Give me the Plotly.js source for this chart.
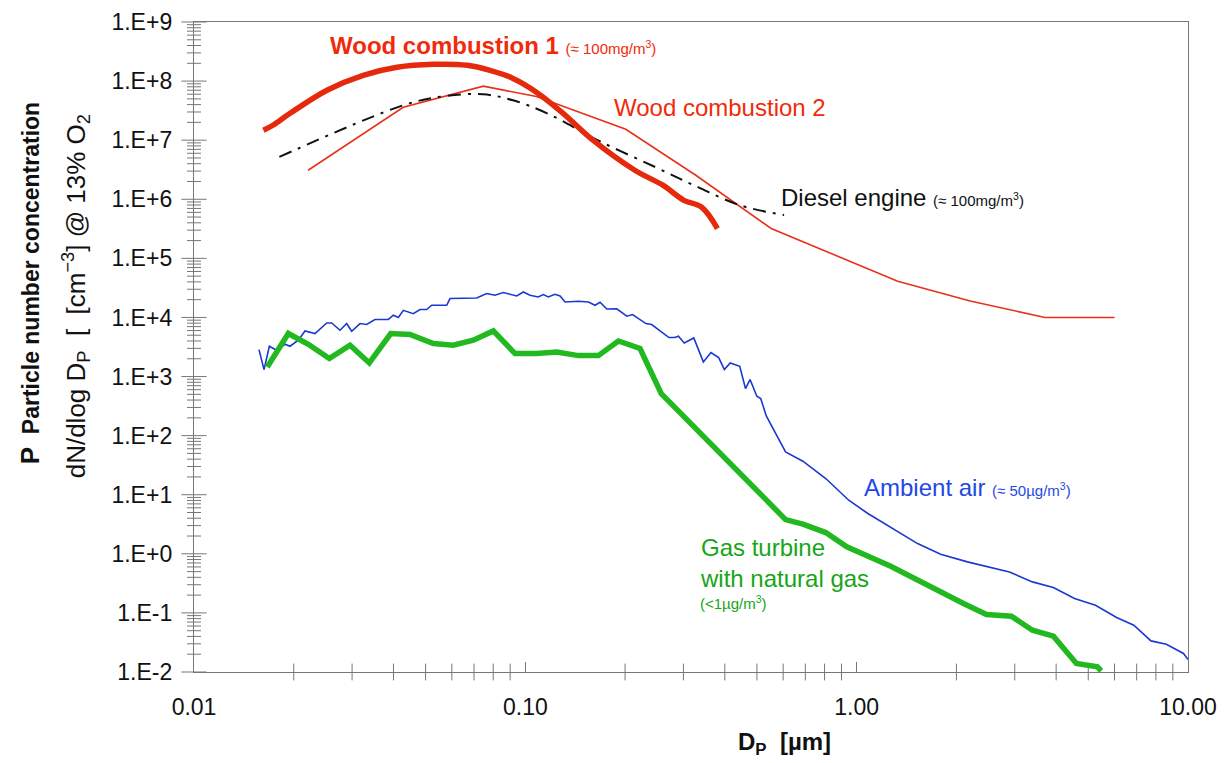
<!DOCTYPE html>
<html>
<head>
<meta charset="utf-8">
<script src="https://cdn.plot.ly/plotly-3.0.1.min.js"></script>
<style>html,body{margin:0;padding:0;background:#fff;}#chart{width:1229px;height:763px;}</style>
</head>
<body>
<div id="chart"></div>
<script>
// ---- Data ----
const wood1X = [0.0162, 0.0173, 0.0195, 0.0252, 0.0324, 0.0410, 0.0526, 0.0667, 0.0782, 0.0918, 0.108, 0.130, 0.160, 0.214, 0.260, 0.301, 0.340, 0.380];
const wood1Y = [1.47e7, 1.79e7, 2.85e7, 7.0e7, 1.25e8, 1.71e8, 1.92e8, 1.85e8, 1.52e8, 1.11e8, 6.5e7, 2.85e7, 1.0e7, 3.1e6, 1.73e6, 9.6e5, 7.4e5, 3.2e5];

const wood2X = [0.0221, 0.0428, 0.0747, 0.108, 0.201, 0.327, 0.552, 1.33, 2.2, 3.7, 6.0];
const wood2Y = [3.1e6, 3.6e7, 8.2e7, 5.5e7, 1.53e7, 2.55e6, 3.2e5, 4.1e4, 1.9e4, 1.0e4, 1.0e4];

const dieselX = [0.0181, 0.0428, 0.0565, 0.0745, 0.0918, 0.1163, 0.167, 0.247, 0.332, 0.445, 0.604];
const dieselY = [5.2e6, 3.9e7, 5.53e7, 5.98e7, 4.73e7, 2.85e7, 9.7e6, 3.5e6, 1.6e6, 7.9e5, 5.4e5];

const ambientX = [0.01571, 0.01627, 0.01688, 0.01777, 0.01883, 0.01949, 0.02064, 0.02163, 0.02318, 0.02515,
  0.02604, 0.02758, 0.02890, 0.02992, 0.03170, 0.03321, 0.03518, 0.03859, 0.03996, 0.04137,
  0.04283, 0.04590, 0.04810, 0.05039, 0.05217, 0.05790, 0.05924, 0.07133, 0.07644, 0.08097,
  0.08580, 0.09419, 0.09862, 0.1033, 0.1094, 0.1133, 0.1173, 0.1229, 0.1273, 0.1318,
  0.1446, 0.1550, 0.1623, 0.1681, 0.1761, 0.1888, 0.2025, 0.2107, 0.2312, 0.2406,
  0.2713, 0.2823, 0.2898, 0.3017, 0.3224, 0.3446, 0.3633, 0.3833, 0.3988, 0.4152,
  0.4437, 0.4618, 0.4767, 0.4997, 0.5133, 0.5341, 0.6101, 0.6880, 0.8067, 0.9465,
  1.081, 1.302, 1.527, 1.792, 2.159, 2.891, 3.391, 3.924, 4.544, 5.258,
  6.087, 6.863, 7.732, 8.602, 9.692, 10.0];
const ambientY = [2.86e3, 1.31e3, 3.26e3, 2.79e3, 3.52e3, 3.26e3, 4.11e3, 5.92e3, 5.35e3, 8.07e3,
  8.07e3, 6.07e3, 7.89e3, 5.84e3, 7.89e3, 7.59e3, 9.21e3, 9.27e3, 1.09e4, 9.96e3,
  1.32e4, 1.16e4, 1.36e4, 1.36e4, 1.61e4, 1.61e4, 2.09e4, 2.14e4, 2.54e4, 2.38e4,
  2.64e4, 2.31e4, 2.70e4, 2.38e4, 2.22e4, 2.44e4, 2.22e4, 2.47e4, 2.31e4, 1.83e4,
  1.88e4, 1.83e4, 1.61e4, 1.81e4, 1.39e4, 1.40e4, 1.05e4, 1.12e4, 7.89e3, 7.59e3,
  4.57e3, 4.57e3, 4.81e3, 3.71e3, 4.50e3, 1.77e3, 2.55e3, 2.09e3, 1.31e3, 1.70e3,
  1.49e3, 627, 889, 465, 425, 213, 53.0, 36.9, 18.8, 8.07,
  4.81, 2.58, 1.49, 0.984, 0.730, 0.494, 0.335, 0.269, 0.175, 0.135,
  0.0836, 0.0619, 0.0336, 0.0295, 0.0206, 0.0163];

const gasX = [0.01664, 0.01926, 0.02213, 0.02561, 0.02957, 0.03381, 0.03924, 0.04487, 0.05277, 0.06062,
  0.06966, 0.08004, 0.09309, 0.1082, 0.1244, 0.1446, 0.1661, 0.1909, 0.2219, 0.2572,
  0.6101, 0.688, 0.8067, 0.9335, 1.267, 1.527, 1.744, 2.101, 2.465, 2.931,
  3.391, 3.924, 4.605, 5.328, 5.47];
const gasY = [1.45e3, 5.35e3, 3.52e3, 2.02e3, 3.39e3, 1.70e3, 5.35e3, 5.14e3, 3.61e3, 3.39e3,
  4.11e3, 5.92e3, 2.45e3, 2.45e3, 2.61e3, 2.26e3, 2.26e3, 4.00e3, 2.98e3, 515,
  3.80, 3.17, 2.29, 1.31, 0.617, 0.357, 0.249, 0.144, 0.0940, 0.0879,
  0.0509, 0.0404, 0.0139, 0.0122, 0.0104];

const xTickVals = [0.01, 0.1, 1, 10];
const xTickText = ['0.01', '0.10', '1.00', '10.00'];
const yTickVals = [1e-2, 1e-1, 1e0, 1e1, 1e2, 1e3, 1e4, 1e5, 1e6, 1e7, 1e8, 1e9];
const yTickText = ['1.E-2', '1.E-1', '1.E+0', '1.E+1', '1.E+2', '1.E+3', '1.E+4', '1.E+5', '1.E+6', '1.E+7', '1.E+8', '1.E+9'];
const minorDigits = [2, 3, 4, 5, 6, 7, 8, 9];

// small log tick positions between the labelled decades (axis decoration only)
const minorOf = decades => decades.slice(0, -1).flatMap(d => minorDigits.map(k => d * k));
const xMinor = minorOf(xTickVals);
const yMinor = minorOf(yTickVals);
const xAxisAt = xTickVals[0];   // left axis position
const yAxisAt = yTickVals[0];   // bottom axis position

// ---- Traces ----
const tickMark = (x, y, symbol, size) => ({
  x: x, y: y, mode: 'markers', cliponaxis: false, hoverinfo: 'skip',
  marker: {symbol: symbol, size: size, color: '#777777', line: {width: 1, color: '#777777'}}
});

const traces = [
  tickMark(xMinor, xMinor.map(() => yAxisAt), 'line-ns', 12),
  tickMark(yMinor.map(() => xAxisAt), yMinor, 'line-ew', 10),
  tickMark(yTickVals.map(() => xAxisAt), yTickVals, 'line-ew', 18),
  {x: ambientX, y: ambientY, mode: 'lines', line: {color: '#1b38d0', width: 1.6}, name: 'Ambient air'},
  {x: gasX, y: gasY, mode: 'lines', line: {color: '#22b81f', width: 5.5}, name: 'Gas turbine'},
  {x: wood2X, y: wood2Y, mode: 'lines', line: {color: '#e8301a', width: 1.6}, name: 'Wood combustion 2'},
  {x: dieselX, y: dieselY, mode: 'lines', line: {color: '#111111', width: 2, dash: '13px,7px,3px,7px', shape: 'spline'}, name: 'Diesel engine'},
  {x: wood1X, y: wood1Y, mode: 'lines', line: {color: '#e5290c', width: 5.5, shape: 'spline'}, name: 'Wood combustion 1'}
];

const FONT = 'Liberation Sans, Arial, sans-serif';
const red = '#f02a0a', blue = '#1e48e6', green = '#16a616';

const layout = {
  width: 1229, height: 763,
  margin: {l: 194, r: 41, t: 22, b: 91},
  paper_bgcolor: '#ffffff', plot_bgcolor: '#ffffff',
  showlegend: false,
  font: {family: FONT, color: '#111'},
  xaxis: {
    type: 'log', range: [-2, 1],
    tickmode: 'array', tickvals: xTickVals, ticktext: xTickText,
    ticks: 'inside', ticklen: 10, tickcolor: '#777777', tickwidth: 1.2,
    showline: true, linecolor: '#777777', linewidth: 1.2, mirror: true,
    showgrid: false, zeroline: false,
    tickfont: {size: 23, family: FONT, color: '#111'},
    ticklabelstandoff: 14
  },
  yaxis: {
    type: 'log', range: [-2, 9],
    tickmode: 'array', tickvals: yTickVals, ticktext: yTickText,
    ticks: '',
    showline: true, linecolor: '#777777', linewidth: 1.2, mirror: true,
    showgrid: false, zeroline: false,
    tickfont: {size: 23, family: FONT, color: '#111'},
    ticklabelstandoff: 16
  },
  annotations: [
    {xref: 'paper', yref: 'paper', x: 0.1348, y: 0.964, xanchor: 'left', yanchor: 'middle', showarrow: false,
     text: '<b>Wood combustion 1</b> <span style="font-size:15px">(≈ 100mg/m<sup>3</sup>)</span>',
     font: {size: 24, color: red, family: FONT}},
    {xref: 'paper', yref: 'paper', x: 0.4205, y: 0.8688, xanchor: 'left', yanchor: 'middle', showarrow: false,
     text: 'Wood combustion 2', font: {size: 24, color: red, family: FONT}},
    {xref: 'paper', yref: 'paper', x: 0.5885, y: 0.7303, xanchor: 'left', yanchor: 'middle', showarrow: false,
     text: 'Diesel engine <span style="font-size:15px">(≈ 100mg/m<sup>3</sup>)</span>', font: {size: 24, color: '#111', family: FONT}},
    {xref: 'paper', yref: 'paper', x: 0.672, y: 0.2842, xanchor: 'left', yanchor: 'middle', showarrow: false,
     text: 'Ambient air <span style="font-size:15px">(≈ 50µg/m<sup>3</sup>)</span>', font: {size: 24, color: blue, family: FONT}},
    {xref: 'paper', yref: 'paper', x: 0.507, y: (671.7 - 563) / 650, xanchor: 'left', yanchor: 'middle', showarrow: false, align: 'left',
     text: 'Gas turbine<br>with natural gas', font: {size: 24, color: green, family: FONT}},
    {xref: 'paper', yref: 'paper', x: 0.507, y: (671.7 - 602) / 650, xanchor: 'left', yanchor: 'middle', showarrow: false, align: 'left',
     text: '(&lt;1µg/m<sup>3</sup>)', font: {size: 15, color: green, family: FONT}},
    {xref: 'paper', yref: 'paper', x: 0.545, y: (671.7 - 743) / 650, xanchor: 'left', yanchor: 'middle', showarrow: false,
     text: '<b>D<sub>P</sub>  [µm]</b>', font: {size: 24, color: '#111', family: FONT}},
    {xref: 'paper', yref: 'paper', x: (30 - 194) / 994, y: (671.7 - 283) / 650, xanchor: 'center', yanchor: 'middle', showarrow: false,
     textangle: -90, text: '<b><span style="font-size:26px">P</span>  Particle number concentration</b>', font: {size: 23, color: '#111', family: FONT}},
    {xref: 'paper', yref: 'paper', x: (76 - 194) / 994, y: (671.7 - 296) / 650, xanchor: 'center', yanchor: 'middle', showarrow: false,
     textangle: -90, text: 'dN/dlog D<sub>P</sub>  [  [cm<sup>−3</sup>] @ 13% O<sub>2</sub>', font: {size: 26, color: '#111', family: FONT}}
  ]
};

Plotly.newPlot('chart', traces, layout, {displayModeBar: false, staticPlot: true});
</script>
</body>
</html>
